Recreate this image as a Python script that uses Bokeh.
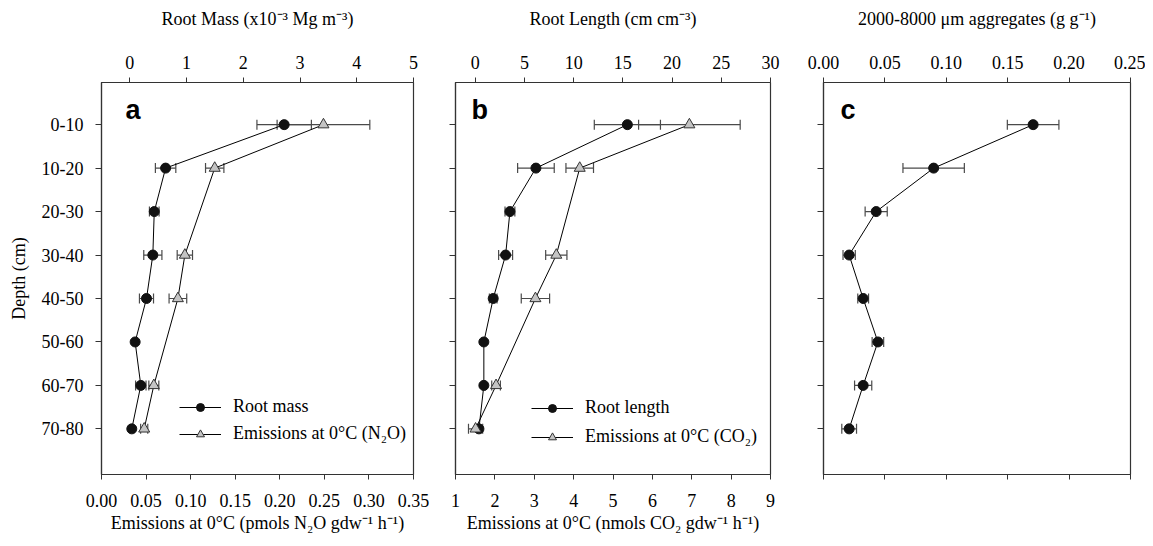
from bokeh.plotting import figure
from bokeh.models import (Range1d, LinearAxis, FixedTicker, Whisker, TeeHead, ColumnDataSource,
                          Legend, LegendItem, Label, NumeralTickFormatter)
from bokeh.layouts import row
from bokeh.embed import file_html
from bokeh.resources import INLINE

# ---------------- data ----------------
depth_labels = ["0-10", "10-20", "20-30", "30-40", "40-50", "50-60", "60-70", "70-80"]

root_mass = [2.72, 0.63, 0.43, 0.405, 0.293, 0.093, 0.193, 0.034]
root_mass_err = [0.48, 0.18, 0.085, 0.16, 0.124, 0.0, 0.092, 0.0]
n2o = [0.249, 0.127, None, 0.0935, 0.0857, None, 0.0587, 0.0479]
n2o_err = [0.052, 0.0103, None, 0.0086, 0.0099, None, 0.0056, 0.004]

root_length = [15.46, 6.17, 3.53, 3.09, 1.83, 0.88, 0.88, 0.38]
root_length_err = [3.36, 1.86, 0.5, 0.71, 0.39, 0.0, 0.15, 0.0]
co2 = [6.94, 4.155, None, 3.56, 3.03, None, 2.03, 1.51]
co2_err = [1.29, 0.35, None, 0.27, 0.36, None, 0.11, 0.18]

aggregates = [0.1707, 0.0897, 0.0429, 0.0209, 0.0323, 0.0443, 0.0323, 0.0209]
aggregates_err = [0.021, 0.025, 0.009, 0.005, 0.0044, 0.0047, 0.007, 0.006]

ticks_a_bottom = [0.0, 0.05, 0.10, 0.15, 0.20, 0.25, 0.30, 0.35]
ticks_a_top = [0, 1, 2, 3, 4, 5]
ticks_b_bottom = [1, 2, 3, 4, 5, 6, 7, 8, 9]
ticks_b_top = [0, 5, 10, 15, 20, 25, 30]
ticks_c = [0.0, 0.05, 0.10, 0.15, 0.20, 0.25]

SERIF = "Liberation Serif"
AX = "#333333"
ERR = "#4a4a4a"
FS = "18px"
ypos = list(range(1, len(depth_labels) + 1))


def style_x(ax, ticks, fmt=None, label=None, show_labels=True, standoff=9, title_standoff=24):
    ax.ticker = FixedTicker(ticks=ticks)
    if fmt:
        ax.formatter = NumeralTickFormatter(format=fmt)
    ax.major_tick_out = 5
    ax.major_tick_in = 0
    ax.minor_tick_line_color = None
    ax.axis_line_color = AX
    ax.major_tick_line_color = AX
    ax.axis_line_width = 1.2
    ax.major_label_text_font = SERIF
    ax.major_label_text_font_size = FS
    ax.major_label_text_color = "black"
    ax.major_label_standoff = standoff
    if not show_labels:
        ax.major_label_overrides = {t: "" for t in ticks}
    if label:
        ax.axis_label = label
        ax.axis_label_text_font = SERIF
        ax.axis_label_text_font_size = FS
        ax.axis_label_text_font_style = "normal"
        ax.axis_label_text_color = "black"
        ax.axis_label_standoff = title_standoff


def make_fig(width, left, right, xr):
    p = figure(width=width, height=544, output_backend="svg", toolbar_location=None,
               x_range=Range1d(*xr), y_range=Range1d(9.05, 0.03),
               min_border_left=left, min_border_right=right, min_border_top=82, min_border_bottom=70)
    p.grid.visible = False
    p.outline_line_color = AX
    p.outline_line_width = 1.2
    p.background_fill_color = "white"
    p.border_fill_color = "white"
    ya = p.yaxis[0]
    ya.ticker = FixedTicker(ticks=ypos)
    ya.major_tick_out = 6
    ya.major_tick_in = 0
    ya.minor_tick_line_color = None
    ya.axis_line_color = AX
    ya.major_tick_line_color = AX
    ya.axis_line_width = 1.2
    ya.major_label_text_font = SERIF
    ya.major_label_text_font_size = FS
    ya.major_label_text_color = "black"
    ya.major_label_standoff = 12
    return p


def errbars(p, x, err, rng=None):
    ys, lo, hi = [], [], []
    for i, (v, e) in enumerate(zip(x, err)):
        if v is None or not e:
            continue
        ys.append(ypos[i]); lo.append(v - e); hi.append(v + e)
    src = ColumnDataSource(dict(y=ys, lower=lo, upper=hi))
    kw = dict(base="y", lower="lower", upper="upper", dimension="width", source=src,
              line_color=ERR, line_width=1.2,
              upper_head=TeeHead(size=10, line_color=ERR, line_width=1.2),
              lower_head=TeeHead(size=10, line_color=ERR, line_width=1.2))
    if rng:
        kw["x_range_name"] = rng
    p.add_layout(Whisker(**kw))


def series(p, x, marker, rng=None):
    xs = [v for v in x if v is not None]
    ys = [ypos[i] for i, v in enumerate(x) if v is not None]
    kw = {"x_range_name": rng} if rng else {}
    l = p.line(xs, ys, line_color="black", line_width=1, **kw)
    if marker == "circle":
        s = p.scatter(xs, ys, marker="circle", size=10, fill_color="#111111", line_color="#111111", **kw)
    else:
        s = p.scatter(xs, ys, marker="triangle", size=11, fill_color="#c4c4c4", line_color="#333333",
                      line_width=1, **kw)
    return l, s


def add_legend(p, items, x, y, spacing):
    lg = Legend(items=[LegendItem(label=t, renderers=list(r)) for t, r in items],
                location=(x, y), glyph_width=42, glyph_height=20, label_height=20,
                label_standoff=12, label_text_font=SERIF, label_text_font_size=FS,
                label_text_color="black",
                spacing=spacing, padding=0, margin=0, border_line_color=None,
                background_fill_alpha=0)
    p.add_layout(lg)


def panel_letter(p, letter, dx):
    p.add_layout(Label(x=dx, y=365, x_units="screen", y_units="screen", text=letter,
                       text_font="Liberation Sans", text_font_style="bold", text_font_size="27px",
                       text_color="black", text_baseline="middle"))


# ---------------- panel a ----------------
pa = make_fig(434, 101, 21, (0.0, 0.35))
pa.yaxis[0].major_label_overrides = {y: t for y, t in zip(ypos, depth_labels)}
pa.yaxis[0].axis_label = "Depth (cm)"
pa.yaxis[0].axis_label_text_font = SERIF
pa.yaxis[0].axis_label_text_font_size = FS
pa.yaxis[0].axis_label_text_font_style = "normal"
pa.yaxis[0].axis_label_text_color = "black"
pa.yaxis[0].axis_label_standoff = 10
pa.extra_x_ranges = {"top": Range1d(-0.5, 5.0)}
top_a = LinearAxis(x_range_name="top")
pa.add_layout(top_a, "above")
style_x(top_a, ticks_a_top, label="Root Mass (x10\u207B\u00B3 Mg m\u207B\u00B3)")
style_x(pa.below[0], ticks_a_bottom, fmt="0.00",
        label="Emissions at 0\u00B0C (pmols N\u2082O gdw\u207B\u00B9 h\u207B\u00B9)", standoff=14, title_standoff=3)
errbars(pa, root_mass, root_mass_err, "top")
errbars(pa, n2o, n2o_err)
la = series(pa, root_mass, "circle", "top")
lb = series(pa, n2o, "triangle")
add_legend(pa, [("Root mass", la), ("Emissions at 0\u00B0C (N\u2082O)", lb)], 78, 30, 6)
panel_letter(pa, "a", 24)

# ---------------- panel b ----------------
pb = make_fig(366, 21, 30, (1, 9))
pb.yaxis[0].major_label_overrides = {y: "" for y in ypos}
pb.extra_x_ranges = {"top": Range1d(-2.0, 30.0)}
top_b = LinearAxis(x_range_name="top")
pb.add_layout(top_b, "above")
style_x(top_b, ticks_b_top, label="Root Length (cm cm\u207B\u00B3)")
style_x(pb.below[0], ticks_b_bottom,
        label="Emissions at 0\u00B0C (nmols CO\u2082 gdw\u207B\u00B9 h\u207B\u00B9)", standoff=14, title_standoff=3)
errbars(pb, root_length, root_length_err, "top")
errbars(pb, co2, co2_err)
lc = series(pb, root_length, "circle", "top")
ld = series(pb, co2, "triangle")
add_legend(pb, [("Root length", lc), ("Emissions at 0\u00B0C (CO\u2082)", ld)], 76, 27, 8)
panel_letter(pb, "b", 16)

# ---------------- panel c ----------------
pc = make_fig(345, 23, 15, (0.0, 0.25))
pc.yaxis[0].major_label_overrides = {y: "" for y in ypos}
top_c = LinearAxis()
pc.add_layout(top_c, "above")
style_x(top_c, ticks_c, fmt="0.00", label="2000-8000 \u03BCm aggregates (g g\u207B\u00B9)")
style_x(pc.below[0], ticks_c, show_labels=False)
errbars(pc, aggregates, aggregates_err)
series(pc, aggregates, "circle")
panel_letter(pc, "c", 17)

layout = row(pa, pb, pc, spacing=0)
open("out.html", "w").write(file_html(layout, INLINE))
